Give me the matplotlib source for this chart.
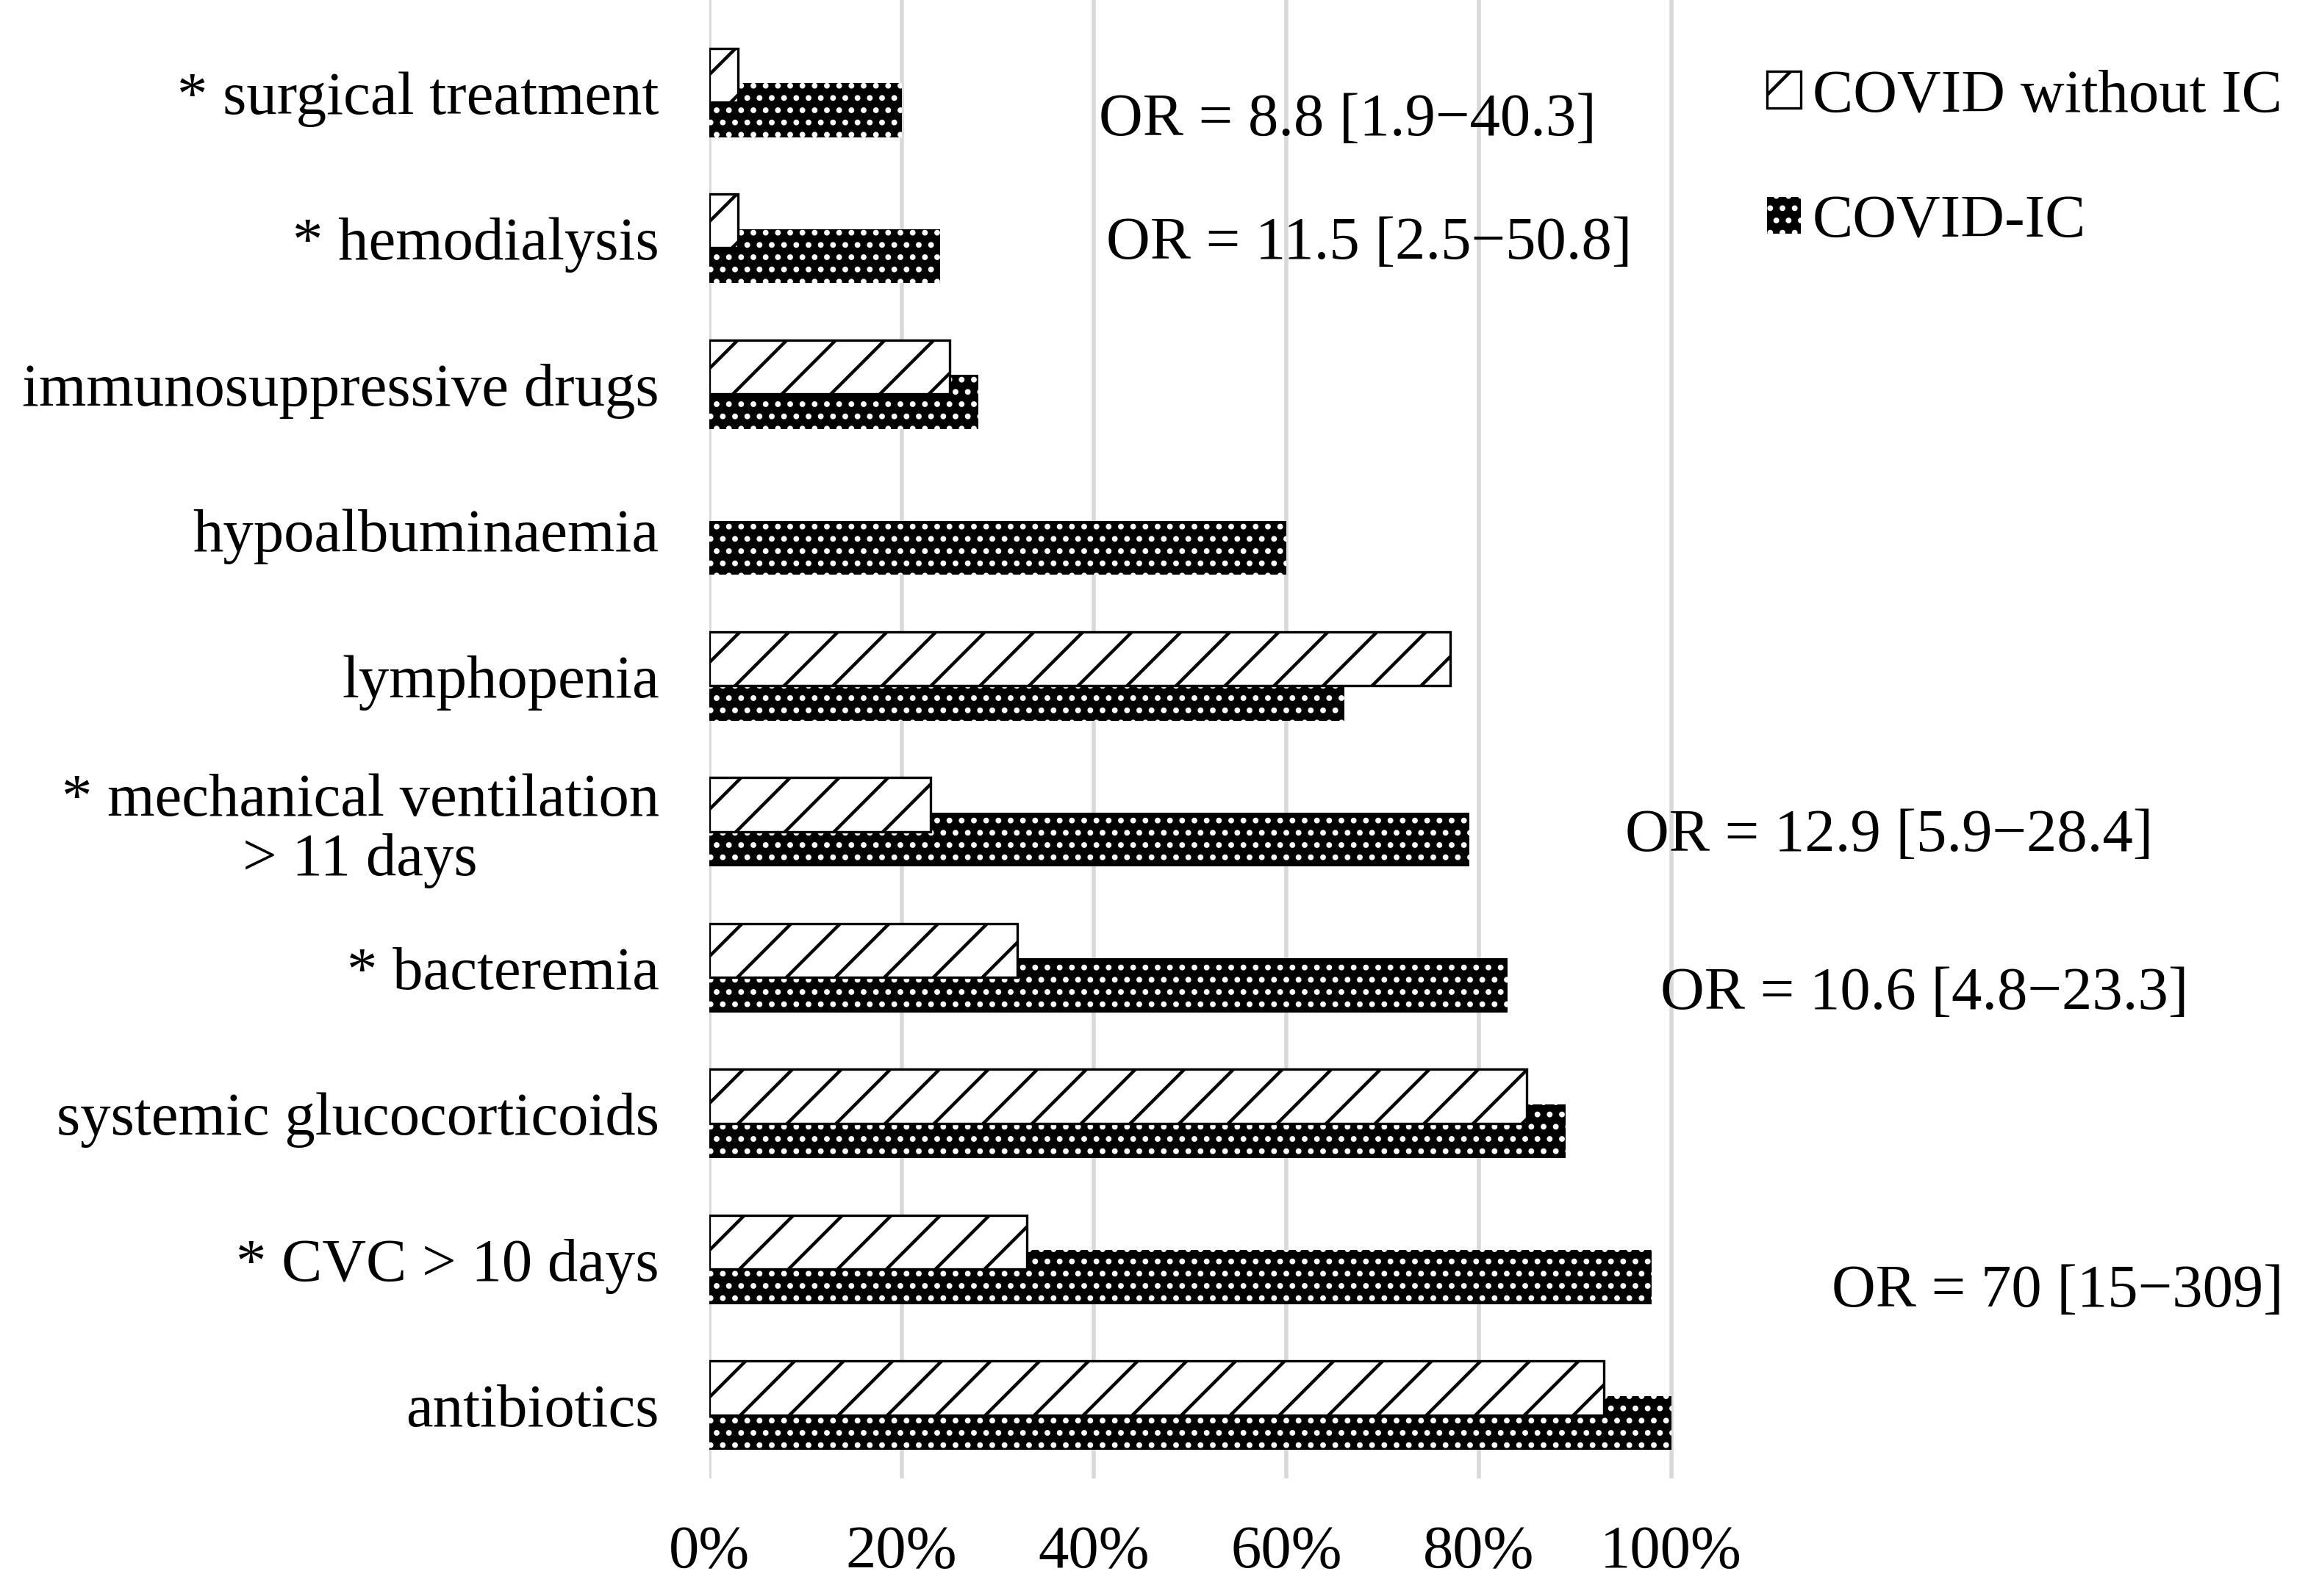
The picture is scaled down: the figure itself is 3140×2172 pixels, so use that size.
import numpy as np
import matplotlib
matplotlib.use("Agg")
import matplotlib.pyplot as plt

# categories listed top to bottom as in the chart
categories = [
    "* surgical treatment",
    "* hemodialysis",
    "immunosuppressive drugs",
    "hypoalbuminaemia",
    "lymphopenia",
    "* mechanical ventilation\n> 11 days",
    "* bacteremia",
    "systemic glucocorticoids",
    "* CVC > 10 days",
    "antibiotics",
]
without_ic = [3, 3, 25, 0, 77, 23, 32, 85, 33, 93]   # % COVID without IC
covid_ic = [20, 24, 28, 60, 66, 79, 83, 89, 98, 100]  # % COVID-IC

or_labels = [
    "OR = 8.8 [1.9\u221240.3]",
    "OR = 11.5 [2.5\u221250.8]",
    "OR = 12.9 [5.9\u221228.4]",
    "OR = 10.6 [4.8\u221223.3]",
    "OR = 70 [15\u2212309]",
]
or_x = [40.5, 41.3, 95.2, 98.9, 116.7]
or_y = [8.71, 7.86, 3.80, 2.72, 0.68]

ticks = [0, 20, 40, 60, 80, 100]
tick_labels = ["0%", "20%", "40%", "60%", "80%", "100%"]

plt.rcParams["font.family"] = ["Liberation Serif", "DejaVu Serif"]
plt.rcParams["hatch.linewidth"] = 1.6
fs = 29.8

fig = plt.figure(figsize=(15.7, 10.86), dpi=200)
ax = fig.add_axes([0.3073, 0.0737, 0.6927, 0.9263])

n = len(categories)
pos = np.arange(n)[::-1]  # top category at highest y
h = 0.37
off = 0.12

lw_wo = [0 if v == 0 else 1.2 for v in without_ic]
ax.barh(pos - off, covid_ic, height=h, color="black", edgecolor="white",
        linewidth=0, hatch="..", zorder=2, label="COVID-IC")
ax.barh(pos + off, without_ic, height=h, color="white", edgecolor="black",
        linewidth=lw_wo, hatch="/", zorder=3, label="COVID without IC")

ax.set_xlim(0, 166.2)
ax.set_ylim(-0.5, 9.635)
ax.set_yticks(pos)
ax.set_yticklabels(categories, fontsize=fs, multialignment="center",
                   linespacing=1.1)
ax.set_xticks(ticks)
ax.set_xticklabels(tick_labels, fontsize=fs)
ax.tick_params(axis="both", length=0)
ax.tick_params(axis="y", pad=24.5)
ax.tick_params(axis="x", pad=23)
ax.grid(axis="x", color="#d9d9d9", linewidth=2.0, zorder=0)
ax.set_axisbelow(True)
for s in ax.spines.values():
    s.set_visible(False)

for txt, x, y in zip(or_labels, or_x, or_y):
    ax.text(x, y, txt, fontsize=fs, ha="left", va="baseline", zorder=4)

handles, labels = ax.get_legend_handles_labels()
fig.legend(handles[::-1], labels[::-1], loc="upper left",
           bbox_to_anchor=(0.7656, 1 - 94 / 2172), frameon=False,
           fontsize=fs, handlelength=0.55, handleheight=0.55,
           handletextpad=0.2, labelspacing=1.15, borderpad=0,
           borderaxespad=0)

fig.savefig("out.png", dpi=200, facecolor="white")
